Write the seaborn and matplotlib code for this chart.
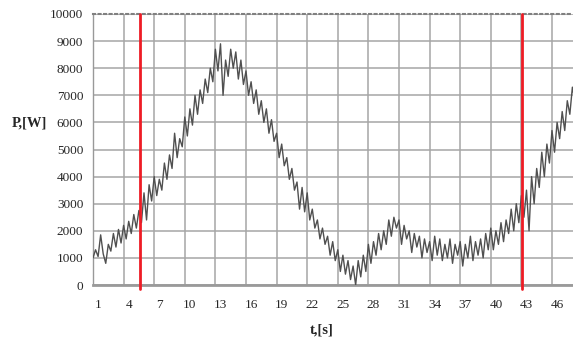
import numpy as np
import pandas as pd
import matplotlib
matplotlib.use("Agg")
import matplotlib.pyplot as plt
import seaborn as sns

# ! Data (power samples every 0.25 s, starting at t = 0.5 s)
sample_start = 0.5
sample_step = 0.25
power = [
    1000, 1300, 1050, 1850,   1150, 800, 1500, 1250,
    1900, 1400, 2050, 1550,   2200, 1700, 2350, 1900,
    2600, 2100, 2750, 2300,   3400, 2400, 3700, 3100,
    4000, 3300, 3900, 3500,   4500, 3900, 4800, 4300,
    5600, 4700, 5400, 5100,   6200, 5500, 6500, 5900,
    7000, 6300, 7200, 6700,   7600, 7100, 8000, 7500,
    8700, 7900, 8900, 7000,   8300, 7700, 8700, 8000,
    8600, 7600, 8300, 7400,   7900, 7000, 7500, 6700,
    7200, 6300, 6800, 6000,   6500, 5600, 6100, 5300,
    5600, 4700, 5200, 4400,   4700, 3900, 4300, 3500,
    3800, 2800, 3600, 2700,   3400, 2400, 2800, 2100,
    2400, 1700, 2100, 1500,   1800, 1100, 1600, 900,
    1300, 500, 1100, 400,     900, 200, 700, 0,
    900, 300, 1100, 500,      1500, 800, 1600, 1100,
    1900, 1300, 2000, 1500,   2400, 1800, 2500, 2100,
    2400, 1500, 2200, 1700,   2000, 1200, 1900, 1400,
    1800, 1000, 1700, 1200,   1600, 900, 1800, 1100,
    1700, 900, 1500, 1000,    1700, 800, 1500, 1100,
    1600, 700, 1500, 1000,    1800, 900, 1600, 1100,
    1700, 1000, 1900, 1300,   2100, 1300, 2000, 1500,
    2300, 1600, 2400, 1900,   2800, 2000, 3000, 2300,
    3300, 2500, 3500, 2000,   4000, 3000, 4300, 3600,
    4900, 4000, 5200, 4500,   5700, 4900, 6000, 5400,
    6400, 5700, 6800, 6300,   7300, 6800,
]
marker_times = [5.1, 42.55]
x_labels = [1, 4, 7, 10, 13, 16, 19, 22, 25, 28, 31, 34, 37, 40, 43, 46]
y_ticks = [0, 1000, 2000, 3000, 4000, 5000, 6000, 7000, 8000, 9000, 10000]

df = pd.DataFrame({'t': sample_start + sample_step * np.arange(len(power)),
                   'P': power})

sns.set_style("white")
plt.rcParams['font.family'] = ['Liberation Serif', 'DejaVu Serif']

fig = plt.figure(figsize=(5.73, 3.47), dpi=100)
ax = fig.add_axes([93 / 573, 1 - 285 / 347, 1 - 93 / 573, (285 - 14) / 347])

sns.lineplot(data=df, x='t', y='P', ax=ax, color='#505050', linewidth=1.0,
             estimator=None, zorder=3)

for t in marker_times:
    ax.axvline(t, ymin=-0.015, ymax=1, color='#ee1c25', linewidth=2.0,
               clip_on=False, zorder=4)

ax.set_xlim(0.5, 47.56)
ax.set_ylim(0, 10000)

# gridlines sit between the labelled categories
ax.set_xticks(np.arange(0.5, 47.6, 3))
ax.set_xticklabels([])
ax.set_xticks(x_labels, minor=True)
ax.set_xticklabels([str(v) for v in x_labels], minor=True)
ax.set_yticks(y_ticks)
ax.set_yticklabels([str(v) for v in y_ticks])

ax.grid(True, which='major', color='#a6a6a6', linewidth=1.1)
ax.tick_params(axis='both', which='major', direction='out', length=4,
               color='#999999', width=1, labelsize=9.5, pad=3)
ax.tick_params(axis='x', which='minor', length=0, labelsize=9.5, pad=10)

ax.spines['left'].set_color('#999999')
ax.spines['left'].set_linewidth(1.0)
ax.spines['bottom'].set_color('#9a9a9a')
ax.spines['bottom'].set_linewidth(2.0)
ax.spines['top'].set_color('#808080')
ax.spines['top'].set_linewidth(1.5)
ax.spines['top'].set_linestyle(':')
ax.spines['right'].set_visible(False)

ax.set_xlabel('')
ax.set_ylabel('')
fig.text(29 / 573, 1 - 123 / 347, 'P,[W]', ha='center', va='center',
         fontsize=10.5, fontweight='bold')
fig.text(322 / 573, 1 - 330 / 347, 't,[s]', ha='center', va='center',
         fontsize=10.5, fontweight='bold')

fig.savefig('out.png', dpi=100)
